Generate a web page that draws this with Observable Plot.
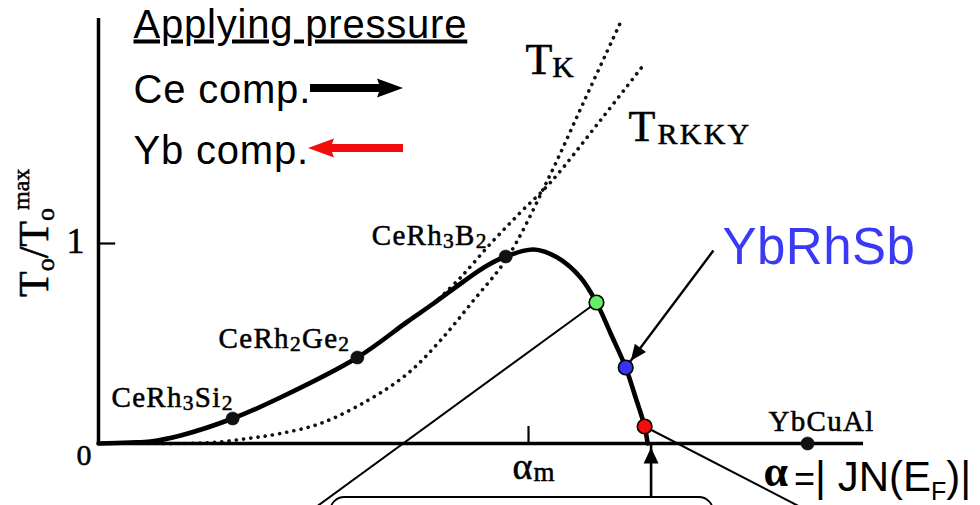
<!DOCTYPE html>
<html>
<head>
<meta charset="utf-8">
<script src="https://cdn.jsdelivr.net/npm/d3@7"></script>
<script src="https://cdn.jsdelivr.net/npm/@observablehq/plot@0.6"></script>
<style>
  html, body { margin: 0; padding: 0; background: #fff; width: 980px; height: 505px; overflow: hidden; }
</style>
</head>
<body>
<div id="chart"></div>
<script>
// Doniach-type diagram: ordering temperature T0 (normalised) against coupling alpha = |J N(EF)|
// alpha is expressed in units of alpha_m (the maximum of T0).

// Solid T0 curve
const t0Alpha = [0, 0.074, 0.121, 0.191, 0.312, 0.423, 0.602, 0.719, 0.779, 0.849, 0.90, 0.947, 1.012, 1.067, 1.121, 1.158, 1.191, 1.226, 1.249, 1.270, 1.277];
const t0Value = [0, 0.005, 0.01, 0.04, 0.125, 0.23, 0.43, 0.61, 0.70, 0.81, 0.885, 0.935, 0.97, 0.93, 0.83, 0.705, 0.55, 0.38, 0.23, 0.085, 0];

// Kondo temperature (dotted)
const tkAlpha = [0.1, 0.191, 0.267, 0.347, 0.423, 0.516, 0.626, 0.719, 0.795, 0.872, 0.951, 1.044, 1.130, 1.216];
const tkValue = [0, 0, 0.005, 0.025, 0.05, 0.10, 0.215, 0.35, 0.515, 0.715, 0.93, 1.315, 1.715, 2.115];

// RKKY temperature (dotted, emerges from under the T0 curve)
const rkkyAlpha = [0.78, 0.842, 0.912, 0.981, 1.051, 1.167, 1.272];
const rkkyValue = [0.70, 0.83, 1.0, 1.155, 1.305, 1.615, 1.905];

// Reference compounds (black dots)
const compounds = ["CeRh_3Si_2", "CeRh_2Ge_2", "CeRh_3B_2", "YbCuAl"];
const compoundAlpha = [0.312, 0.602, 0.947, 1.649];
const compoundValue = [0.125, 0.43, 0.935, 0];

// Yb compound positions (coloured dots)
const ybAlpha = [1.158, 1.226, 1.270];
const ybValue = [0.705, 0.38, 0.085];
const ybColor = ["#66ee66", "#3535f2", "#f20d0d"];

// Axis ticks
const yTicks = [0, 1];
const yTickLabels = ["0", "1"];
const alphaM = 1;

// ---- layout ----
const W = 980, H = 505;
const mL = 98, mR = 117, mT = 18, mB = 62;
const serif = "'Liberation Serif', 'Times New Roman', serif";
const sans = "'Liberation Sans', Arial, sans-serif";
const blueText = "#3a3af6";
const ink = {fill: "black", stroke: "black", strokeWidth: 0.55}; // slightly heavier serif lettering

// label offsets (px) for the compound names, relative to their dots
const labelDx = [1, -7, -18, 14];
const labelDy = [-12, -10, -12, -13];
const labelAnchor = ["end", "end", "end", "middle"];

// callout: YbRhSb label anchor, and where the two leader lines leave the frame
const ybCallout = {a: 1.43, v: 0.965};
const leaderEnds = [{a: 0.463, v: -0.385}, null, {a: 1.693, v: -0.385}];
const boxSpan = {a1: 0.54, a2: 1.43, v1: -0.27, v2: -0.8};
const zeroCross = 1.285;

const dotted = {curve: "catmull-rom", stroke: "#111", strokeWidth: 3.6, strokeDasharray: "0.1 7.2", strokeLinecap: "round"};

const marks = [
  // callout box below the axis
  Plot.rect([0], {x1: boxSpan.a1, x2: boxSpan.a2, y1: boxSpan.v1, y2: boxSpan.v2,
    fill: "none", stroke: "black", strokeWidth: 1.8, rx: 14}),
  // dotted T_K and T_RKKY
  Plot.line(tkValue, {x: tkAlpha, y: tkValue, ...dotted}),
  Plot.line(rkkyValue, {x: rkkyAlpha, y: rkkyValue, ...dotted}),
  // axes
  Plot.ruleY([0], {stroke: "black", strokeWidth: 3.5}),
  Plot.ruleX([0], {stroke: "black", strokeWidth: 3.5}),
  Plot.ruleX([alphaM], {y1: 0, y2: 0.085, stroke: "black", strokeWidth: 2.2}),
  Plot.ruleY([1], {x1: 0, x2: 0.04, stroke: "black", strokeWidth: 2.2}),
  // solid T0 curve
  Plot.line(t0Value, {x: t0Alpha, y: t0Value, curve: "catmull-rom", stroke: "black", strokeWidth: 4.6}),
  // leader lines from the green and red points
  Plot.link([0, 2], {x1: i => ybAlpha[i], y1: i => ybValue[i], x2: i => leaderEnds[i].a, y2: i => leaderEnds[i].v,
    stroke: "black", strokeWidth: 2, ariaDescription: "leaders"}),
  // pointer arrows (heads added below)
  Plot.link([1], {x1: ybCallout.a, y1: ybCallout.v, x2: i => ybAlpha[i], y2: i => ybValue[i],
    stroke: "black", strokeWidth: 2.4, ariaDescription: "pointer-dot"}),
  Plot.link([0], {x1: zeroCross, y1: boxSpan.v1, x2: zeroCross, y2: 0,
    stroke: "black", strokeWidth: 2.6, ariaDescription: "pointer-axis"}),
  // compound dots
  Plot.dot(compounds, {x: compoundAlpha, y: compoundValue, r: 6.6, fill: "#111", stroke: "#111", strokeWidth: 0.5}),
  Plot.dot(ybColor, {x: ybAlpha, y: ybValue, r: 7.3, fill: ybColor, stroke: "black", strokeWidth: 1.6}),
  // tick labels
  Plot.text([yTickLabels[1]], {x: [0], y: [yTicks[1]], dx: -14, dy: 9, textAnchor: "end",
    fontFamily: serif, fontSize: 36, ...ink}),
  Plot.text([yTickLabels[0]], {x: [0], y: [yTicks[0]], dx: -7, dy: 21, textAnchor: "end",
    fontFamily: serif, fontSize: 30, ...ink}),
  Plot.text(["α_m"], {x: [alphaM], y: [0], dx: -16, dy: 35, textAnchor: "start",
    fontFamily: serif, fontSize: 38, ...ink}),
  // y label
  Plot.text(["T0/T0max"], {frameAnchor: "left", dx: -51, dy: 66, rotate: -90, textAnchor: "start",
    fontFamily: serif, fontSize: 42, ...ink}),
  // x label
  Plot.text(["α = |JN(EF)|"], {frameAnchor: "bottom-right", dx: -100, dy: 47, textAnchor: "start",
    fontFamily: sans, fontSize: 42, fill: "black"}),
  // curve names
  Plot.text(["T_K"], {x: [tkAlpha[tkAlpha.length - 1]], y: [tkValue[tkValue.length - 1]], dx: -96, dy: 53,
    textAnchor: "start", fontFamily: serif, fontSize: 44, ...ink}),
  Plot.text(["T_RKKY"], {x: [rkkyAlpha[rkkyAlpha.length - 1]], y: [rkkyValue[rkkyValue.length - 1]], dx: -17, dy: 78,
    textAnchor: "start", fontFamily: serif, fontSize: 44, ...ink}),
  // YbRhSb callout label
  Plot.text(["YbRhSb"], {x: [ybCallout.a], y: [ybCallout.v], dx: 9, dy: 13, textAnchor: "start",
    fontFamily: sans, fontSize: 51, fill: blueText}),
  // legend
  Plot.text(["Applying pressure"], {frameAnchor: "top-left", dx: 35, dy: 19, textAnchor: "start",
    fontFamily: sans, fontSize: 40, fill: "black"}),
  Plot.text(["Ce comp."], {frameAnchor: "top-left", dx: 35, dy: 84, textAnchor: "start",
    fontFamily: sans, fontSize: 40, fill: "black"}),
  Plot.text(["Yb comp."], {frameAnchor: "top-left", dx: 35, dy: 145, textAnchor: "start",
    fontFamily: sans, fontSize: 40, fill: "black"})
];

// compound names with subscripts
compounds.forEach((name, i) => {
  marks.push(Plot.text([name], {x: [compoundAlpha[i]], y: [compoundValue[i]], dx: labelDx[i], dy: labelDy[i],
    textAnchor: labelAnchor[i], fontFamily: serif, fontSize: 29, ...ink}));
});

const plot = Plot.plot({
  width: W, height: H,
  marginLeft: mL, marginRight: mR, marginTop: mT, marginBottom: mB,
  x: {domain: [0, 1.779], axis: null},
  y: {domain: [0, 2.125], axis: null},
  color: {type: "identity"},
  style: {background: "white", overflow: "visible"},
  marks
});
document.getElementById("chart").append(plot);

const svg = d3.select(plot);

// ---- rich text: replace plain strings with tspans (baseline at the anchor point) ----
function writeParts(node, parts, letterSpacing) {
  const t = d3.select(node);
  t.text(null).attr("dy", null);
  const yAttr = node.getAttribute("y");
  if (yAttr && /em$/.test(yAttr)) t.attr("y", null);
  if (letterSpacing) t.attr("letter-spacing", letterSpacing);
  let cur = 0;
  for (const p of parts) {
    const sp = t.append("tspan").text(p.s);
    if (p.size) sp.attr("font-size", p.size);
    if (p.family) sp.attr("font-family", p.family);
    if (p.weight) sp.attr("font-weight", p.weight);
    const sh = p.shift || 0;
    if (sh !== cur) sp.attr("dy", sh - cur);
    cur = sh;
    if (p.dx) sp.attr("dx", p.dx);
  }
}
function subscripted(src, base, subScale, subShift) {
  const parts = [];
  let i = 0;
  while (i < src.length) {
    if (src[i] === "_") {
      parts.push({s: src[i + 1], size: base * subScale, shift: subShift});
      i += 2;
    } else {
      let j = i;
      while (j < src.length && src[j] !== "_") j++;
      parts.push({s: src.slice(i, j), size: base, shift: 0});
      i = j;
    }
  }
  return parts;
}
const richText = new Map([
  ["α_m", {parts: [{s: "α", size: 38}, {s: "m", size: 27, shift: 2, dx: 1}]}],
  ["T_K", {parts: [{s: "T", size: 44}, {s: "K", size: 30, shift: 3}]}],
  ["T_RKKY", {parts: [{s: "T", size: 44}, {s: "RKKY", size: 30, shift: 3}], spacing: 2.2}],
  ["T0/T0max", {parts: [
    {s: "T", size: 42}, {s: "o", size: 26, shift: 6},
    {s: "/", size: 42, shift: 0}, {s: "T", size: 42},
    {s: "o", size: 26, shift: 6}, {s: "max", size: 24, shift: -19, dx: -2}
  ]}],
  ["α = |JN(EF)|", {parts: [
    {s: "α", size: 44, family: serif, weight: "bold", shift: -5},
    {s: "=", size: 36, dx: 6, shift: 0},
    {s: "| JN(E", size: 42},
    {s: "F", size: 25, shift: 9},
    {s: ")|", size: 42, shift: 0}
  ]}],
  ["Applying pressure", {parts: [{s: "Applying pressure"}], spacing: 0.8, underline: true}],
  ["Ce comp.", {parts: [{s: "Ce comp."}], spacing: 0.8}],
  ["Yb comp.", {parts: [{s: "Yb comp."}], spacing: 0.8}],
  ["YbRhSb", {parts: [{s: "YbRhSb"}], spacing: 0.5}],
  ["0", {parts: [{s: "0"}]}],
  ["1", {parts: [{s: "1"}]}]
]);
compounds.forEach(name => richText.set(name, {parts: subscripted(name, 29, 0.74, 3), spacing: 1.3}));

svg.selectAll("text").each(function() {
  const spec = richText.get(this.textContent);
  if (!spec) return;
  writeParts(this, spec.parts, spec.spacing);
  if (spec.underline) d3.select(this).attr("text-decoration", "underline");
});

// ---- filled arrowheads for the pointer links ----
const defs = svg.insert("defs", ":first-child");
function head(id, len, half, gap) {
  defs.append("marker")
    .attr("id", id).attr("markerUnits", "userSpaceOnUse")
    .attr("markerWidth", 40).attr("markerHeight", 40)
    .attr("refX", len + gap).attr("refY", 0).attr("orient", "auto")
    .style("overflow", "visible")
    .append("path").attr("d", `M0,${-half}L${len},0L0,${half}Z`).attr("fill", "black");
}
head("head-dot", 16, 7, 8.5);
head("head-axis", 16, 7.5, 4);
let pDot = svg.selectAll('g[aria-description="pointer-dot"] path');
let pAxis = svg.selectAll('g[aria-description="pointer-axis"] path');
if (pDot.empty() || pAxis.empty()) {
  const linkGroups = svg.selectAll('g[aria-label="link"]').nodes();
  pDot = d3.select(linkGroups[1]).selectAll("path");
  pAxis = d3.select(linkGroups[2]).selectAll("path");
}
pDot.attr("marker-end", "url(#head-dot)");
pAxis.attr("marker-end", "url(#head-axis)");

// ---- legend arrows (direction of pressure) ----
function legendArrow(x0, x1, y, color) {
  const dir = Math.sign(x1 - x0), headLen = 26, half = 9.5, shaft = 4;
  const xb = x1 - dir * headLen;
  svg.append("path")
    .attr("d", `M${x0},${y - shaft}L${xb + dir * 2},${y - shaft}L${xb},${y - half}L${x1},${y}L${xb},${y + half}L${xb + dir * 2},${y + shaft}L${x0},${y + shaft}Z`)
    .attr("fill", color);
}
legendArrow(mL + 212, mL + 305, mT + 70, "black");
legendArrow(mL + 305, mL + 210, mT + 130, "#f20d0d");
</script>
</body>
</html>
